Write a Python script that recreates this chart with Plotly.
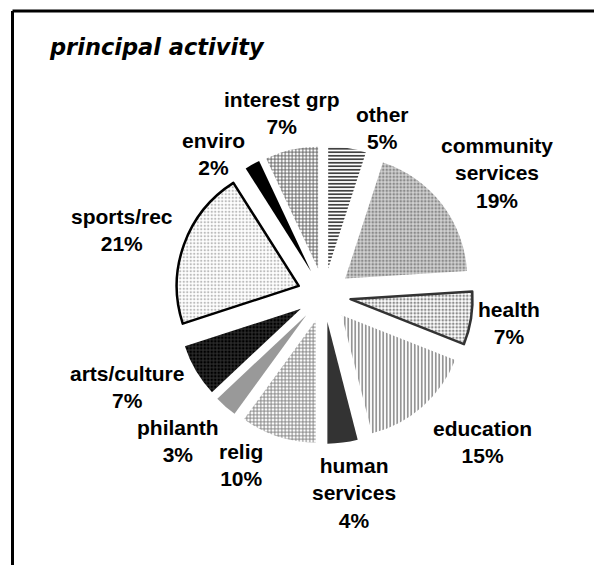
import math
import plotly.graph_objects as go

# Share of organisations by principal activity (percent)
categories = ["other", "community services", "health", "education",
              "human services", "relig", "philanth", "arts/culture",
              "sports/rec", "enviro", "interest grp"]
shares = [5, 19, 7, 15, 4, 10, 3, 7, 21, 2, 7]
# Line breaks used in the slice labels
label_lines = ["other", "community<br>services", "health", "education",
               "human<br>services", "relig", "philanth", "arts/culture",
               "sports/rec", "enviro", "interest grp"]

# Every wedge is exploded by the same fraction of the radius
PULL = 0.22

# Monochrome fills: pattern shape, pattern colour, background colour, density
shapes = ["-", ".", ".", "|", "", "+", "", ".", ".", "", "+"]
fg = ["#2b2b2b", "#8a8a8a", "#8c8c8c", "#8a8a8a", "#333333", "#7a7a7a",
      "#999999", "#000000", "#bcbcbc", "#000000", "#555555"]
bg = ["#ffffff", "#d2d2d2", "#ffffff", "#ffffff", "#333333", "#ffffff",
      "#999999", "#2a2a2a", "#ffffff", "#000000", "#ffffff"]
solidity = [0.45, 0.45, 0.45, 0.45, 0.45, 0.45, 0.45, 0.45, 0.35, 0.45, 0.45]
line_col = ["#ffffff"] * len(shares)
line_w = [0] * len(shares)
line_col[2], line_w[2] = "#333333", 2.5   # health
line_col[8], line_w[8] = "#000000", 2.5   # sports/rec

# Label placement: distance from the pie centre (px) and angular nudge (deg)
label_dist = [177, 212, 187, 216, 200, 189, 206, 217, 212, 179, 187]
label_nudge = [10.2, 2.6, -0.4, -5.7, -1.4, 8.0, 3.6, 5.5, -2.0, -9.2, -0.4]

W, H = 594, 565
R = 122                 # pie radius in pixels
cx, cy = 324, 295       # pie centre in pixels
half = R * (1 + PULL)   # half-size of the pie box including the explosion

fig = go.Figure(go.Pie(
    labels=categories,
    values=shares,
    sort=False,
    direction="clockwise",
    rotation=0,
    pull=[PULL] * len(shares),
    marker=dict(
        colors=bg,
        line=dict(color=line_col, width=line_w),
        pattern=dict(shape=shapes, fgcolor=fg, bgcolor=bg,
                     size=3.5, solidity=solidity, fillmode="replace"),
    ),
    textinfo="none",
    domain=dict(x=[(cx - half) / W, (cx + half) / W],
                y=[1 - (cy + half) / H, 1 - (cy - half) / H]),
    showlegend=False,
    hoverinfo="label+percent",
))

# Data labels, placed around each wedge's mid-angle
total = sum(shares)
annotations = []
acc = 0.0
for i, s in enumerate(shares):
    mid = (acc + s / 2) / total * 360 + label_nudge[i]
    acc += s
    a = math.radians(mid)
    px = cx + label_dist[i] * math.sin(a)
    py = cy - label_dist[i] * math.cos(a)
    pct = round(100 * s / total)
    annotations.append(dict(
        x=px / W, y=1 - py / H, xref="paper", yref="paper",
        xanchor="center", yanchor="middle", showarrow=False,
        text=f"{label_lines[i]}<br>{pct}%", align="center",
        font=dict(family="Liberation Sans, Arial, sans-serif", size=21,
                  color="#000000", weight="bold"),
    ))

fig.update_layout(
    width=W, height=H,
    margin=dict(l=0, r=0, t=0, b=0),
    paper_bgcolor="#ffffff",
    plot_bgcolor="#ffffff",
    title=dict(text="principal activity", x=50 / W, xanchor="left",
               y=1 - 47 / H, yanchor="middle",
               font=dict(family="DejaVu Sans", size=22.5, color="#000000",
                         weight="bold", style="italic")),
    annotations=annotations,
    shapes=[
        dict(type="line", xref="paper", yref="paper",
             x0=12.5 / W, x1=1.05, y0=1 - 11 / H, y1=1 - 11 / H,
             line=dict(color="#000000", width=3)),
        dict(type="line", xref="paper", yref="paper",
             x0=12.5 / W, x1=12.5 / W, y0=1 - 11 / H, y1=-0.05,
             line=dict(color="#000000", width=3)),
    ],
)

fig.write_html(
    "out.html",
    post_script="document.body.style.margin='0';"
                "document.body.style.overflow='hidden';",
)
